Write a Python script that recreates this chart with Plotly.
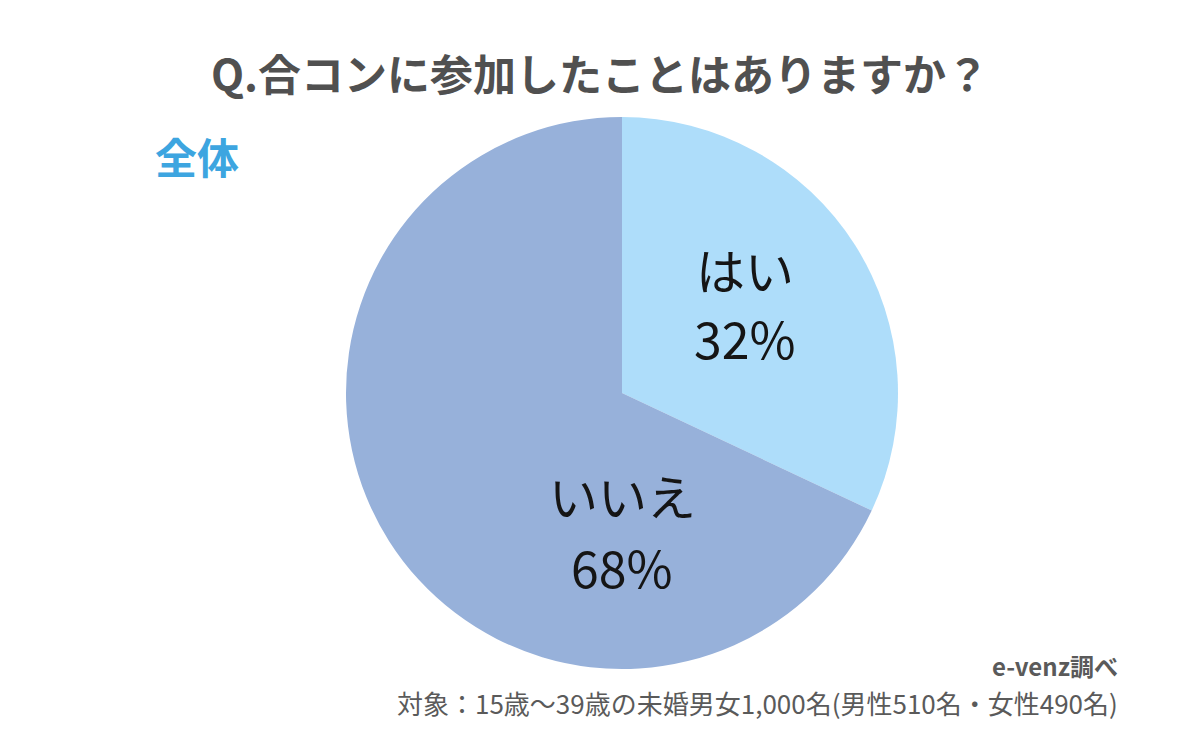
import plotly.graph_objects as go

labels = ["はい", "いいえ"]
values = [32, 68]
colors = ["#AEDDFA", "#97B1DA"]
title_text = "Q.合コンに参加したことはありますか？"
subtitle_text = "全体"
source_text = "e-venz調べ"
note_text = "対象：15歳～39歳の未婚男女1,000名(男性510名・女性490名)"

W, H = 1200, 743
FONT = "Noto Sans CJK JP"

fig = go.Figure()
fig.add_trace(go.Pie(
    labels=labels, values=values, sort=False, direction="clockwise", rotation=0,
    marker=dict(colors=colors, line=dict(width=0)),
    textinfo="none", hoverinfo="label+percent", showlegend=False,
    domain=dict(x=[(622 - 276) / W, (622 + 276) / W], y=[(743 - 669) / H, (743 - 117) / H]),
))


def ann(x, y, text, size, color, xanchor="center"):
    return dict(x=x / W, y=1 - y / H, xref="paper", yref="paper", text=text,
                showarrow=False, xanchor=xanchor, yanchor="middle",
                font=dict(family=FONT, size=size, color=color))


# label positions (pixel) for each slice: x, label y, percent y
label_pos = [(745, 268, 337), (622, 495, 566)]
anns = []
for (lab, v), (x, y1, y2) in zip(zip(labels, values), label_pos):
    anns.append(ann(x, y1, lab, 49, "#151515"))
    anns.append(ann(x, y2, f"{v}%", 50, "#151515"))

anns.append(ann(600, 72, f"<b>{title_text}</b>", 43, "#505050"))
anns.append(ann(153, 155, f"<b>{subtitle_text}</b>", 42, "#3DA5E0", "left"))
anns.append(ann(1120, 665, f"<b>{source_text}</b>", 24, "#5A5A5A", "right"))
anns.append(ann(1120, 702, note_text, 26, "#5A5A5A", "right"))

fig.update_layout(
    width=W, height=H, margin=dict(l=0, r=0, t=0, b=0),
    paper_bgcolor="white", plot_bgcolor="white",
    annotations=anns,
)
fig.write_html("out.html")
